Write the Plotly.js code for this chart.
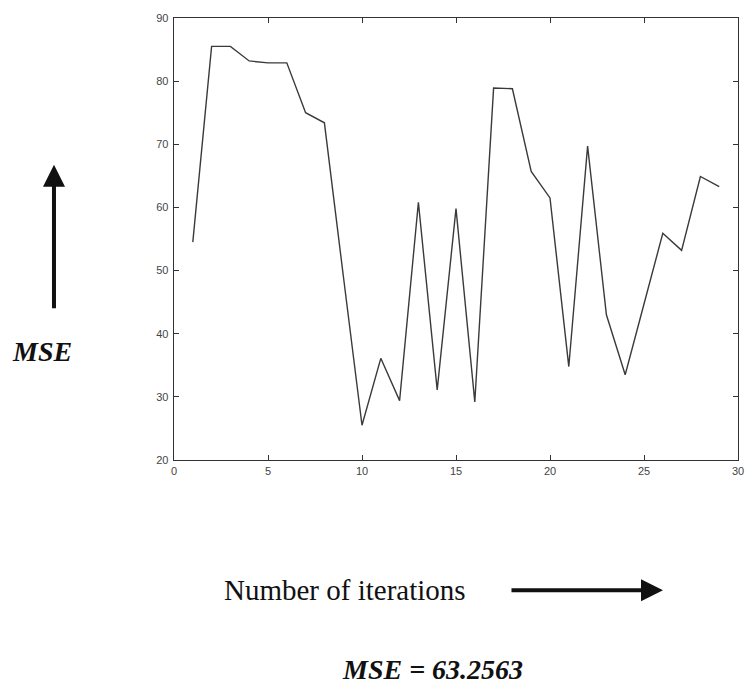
<!DOCTYPE html>
<html>
<head>
<meta charset="utf-8">
<script src="https://cdn.plot.ly/plotly-3.0.1.min.js"></script>
<style>html,body{margin:0;padding:0;background:#fff;}#chart{width:747px;height:690px;}</style>
</head>
<body>
<div id="chart"></div>
<script>
const iterations = [1,2,3,4,5,6,7,8,9,10,11,12,13,14,15,16,17,18,19,20,21,22,23,24,25,26,27,28,29];
const mseValues = [54.5,85.5,85.5,83.2,82.9,82.9,75.0,73.4,49.3,25.5,36.1,29.4,60.8,31.1,59.8,29.2,78.9,78.8,65.7,61.5,34.8,69.7,43.0,33.5,44.7,55.9,53.2,64.9,63.3];
const xTicks = [0,5,10,15,20,25,30];
const yTicks = [20,30,40,50,60,70,80,90];
const yLabel = "MSE";
const xLabel = "Number of iterations";
const resultText = "MSE = 63.2563";

const trace = {
  x: iterations, y: mseValues, type: 'scatter', mode: 'lines',
  line: {color: '#3a3a3a', width: 1.4}, hoverinfo: 'skip'
};

const axisCommon = {
  showgrid: false, zeroline: false, showline: true, mirror: 'ticks',
  linecolor: '#333', linewidth: 1.3, ticks: 'inside', ticklen: 5, tickcolor: '#333',
  tickfont: {family: 'Liberation Sans, Arial, sans-serif', size: 11, color: '#444'}
};

const layout = {
  width: 747, height: 690,
  margin: {l: 174, r: 9, t: 18, b: 230},
  paper_bgcolor: '#fff', plot_bgcolor: '#fff',
  showlegend: false,
  xaxis: Object.assign({}, axisCommon, {range: [0, 30], tickvals: xTicks, ticktext: xTicks.map(String), ticklabelstandoff: 0}),
  yaxis: Object.assign({}, axisCommon, {range: [20, 90], tickvals: yTicks, ticktext: yTicks.map(String), ticklabelstandoff: 2}),
  annotations: [
    {xref: 'paper', yref: 'paper', x: -0.2128, y: 0.668, ax: 0, ay: 145, axref: 'pixel', ayref: 'pixel',
     text: '', showarrow: true, arrowhead: 2, arrowsize: 1.1, arrowwidth: 4, arrowcolor: '#111'},
    {xref: 'paper', yref: 'paper', x: 0.867, y: -0.2945, ax: -153, ay: 0, axref: 'pixel', ayref: 'pixel',
     text: '', showarrow: true, arrowhead: 2, arrowsize: 1.1, arrowwidth: 4, arrowcolor: '#111'},
    {xref: 'paper', yref: 'paper', x: -0.2344, y: 0.245, xanchor: 'center', yanchor: 'middle', showarrow: false,
     text: '<b><i>' + yLabel + '</i></b>', font: {family: 'Liberation Serif, Times New Roman, serif', size: 28, color: '#111'}},
    {xref: 'paper', yref: 'paper', x: 0.0845, y: -0.2945, xanchor: 'left', yanchor: 'middle', showarrow: false,
     text: xLabel, font: {family: 'Liberation Serif, Times New Roman, serif', size: 29, color: '#111'}},
    {xref: 'paper', yref: 'paper', x: 0.458, y: -0.475, xanchor: 'center', yanchor: 'middle', showarrow: false,
     text: '<b><i>' + resultText + '</i></b>', font: {family: 'Liberation Serif, Times New Roman, serif', size: 28, color: '#111'}}
  ]
};

Plotly.newPlot('chart', [trace], layout, {displayModeBar: false, staticPlot: true});
</script>
</body>
</html>
